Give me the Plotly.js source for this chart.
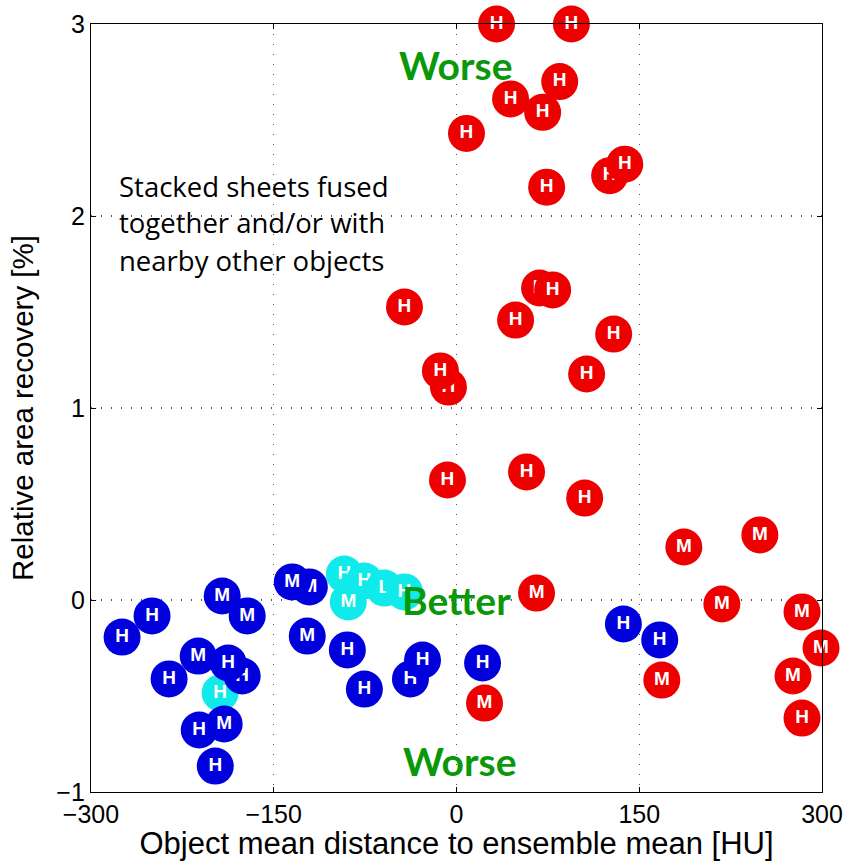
<!DOCTYPE html>
<html><head><meta charset="utf-8">
<script src="https://cdn.plot.ly/plotly-3.0.1.min.js"></script>
<style>html,body{margin:0;padding:0;background:#fff}#chart{width:844px;height:861px}</style>
</head><body><div id="chart"></div>
<script>
// Cyan objects (drawn first)
const cyanX = [-194, -92.1, -75.6, -59.2, -42.7, -88.8];
const cyanY = [-0.484, 0.135, 0.099, 0.062, 0.042, -0.010];
const cyanLabel = ['H', 'H', 'H', 'L', 'H', 'M'];

// Blue objects
const blueX = [-274.5, -249.9, -192.3, -171.8, -235.9, -175.9, -212, -187.4, -211.2, -190.7, -198,
               -120.8, -134.8, -122.5, -89.6, -75.6, -37.8, -27.9, 21.4, 137, 166.8];
const blueY = [-0.193, -0.083, 0.021, -0.083, -0.411, -0.396, -0.292, -0.328, -0.677, -0.646, -0.865,
               0.068, 0.094, -0.188, -0.26, -0.464, -0.411, -0.313, -0.328, -0.125, -0.208];
const blueLabel = ['H', 'H', 'M', 'M', 'H', 'H', 'M', 'H', 'H', 'M', 'H',
                   'M', 'M', 'M', 'H', 'H', 'H', 'H', 'H', 'H', 'H'];

// Red objects
const redX = [32.9, 94.3, 84.7, 44.4, 70.7, 8.2, 74, 125.7, 138.1, -42.7, 48.5, 68.2, 78.9, 129, 106.8,
              -6.6, -13.2, -7.4, 57.5, 105.2, 186.6, 249, 217.8, 283.6, 276.2, 299.2, 283.6, 168.5, 65.7, 23];
const redY = [3.0, 3.0, 2.70, 2.61, 2.54, 2.43, 2.15, 2.21, 2.27, 1.526, 1.458, 1.625, 1.615, 1.385, 1.177,
              1.109, 1.193, 0.625, 0.667, 0.531, 0.276, 0.339, -0.021, -0.062, -0.396, -0.25, -0.615, -0.417, 0.036, -0.537];
const redLabel = ['H', 'H', 'H', 'H', 'H', 'H', 'H', 'H', 'H', 'H', 'H', 'H', 'H', 'H', 'H',
                  'H', 'H', 'H', 'H', 'H', 'M', 'M', 'M', 'M', 'M', 'M', 'H', 'M', 'M', 'M'];

const xTickVals = [-300, -150, 0, 150, 300];
const yTickVals = [-1, 0, 1, 2, 3];

const groups = [
  {x: cyanX, y: cyanY, t: cyanLabel, color: '#10eaea'},
  {x: blueX, y: blueY, t: blueLabel, color: '#0000dd'},
  {x: redX, y: redY, t: redLabel, color: '#ee0000'}
];

const traces = [];
groups.forEach(g => {
  g.x.forEach((xv, i) => {
    traces.push({
      type: 'scatter', mode: 'markers+text',
      x: [xv], y: [g.y[i]], text: [g.t[i]],
      textposition: 'middle center',
      marker: {size: 37, color: g.color, line: {width: 0}},
      textfont: {color: '#ffffff', size: 19, family: 'Liberation Sans, Arial, sans-serif', weight: 'bold'},
      cliponaxis: false, showlegend: false, hoverinfo: 'skip'
    });
  });
});

const green = '#0a980a';
const axisCommon = {
  showline: true, linecolor: '#000', linewidth: 1.2, mirror: 'ticks',
  ticks: 'inside', ticklen: 5, tickcolor: '#000', tickwidth: 1,
  showgrid: true, gridcolor: '#555', gridwidth: 1.3, griddash: '1.3px,8.7px',
  zeroline: false, tickfont: {family: 'Liberation Sans, Arial, sans-serif', size: 25, color: '#000'},
  automargin: false, fixedrange: true
};

const layout = {
  width: 844, height: 861,
  margin: {l: 91, r: 22, t: 24, b: 69},
  paper_bgcolor: '#fff', plot_bgcolor: '#fff',
  showlegend: false,
  xaxis: Object.assign({}, axisCommon, {
    range: [-300, 300], tickmode: 'array', tickvals: xTickVals,
    title: {text: 'Object mean distance to ensemble mean [HU]', standoff: 4,
            font: {family: 'Liberation Sans, Arial, sans-serif', size: 31, color: '#000'}}
  }),
  yaxis: Object.assign({}, axisCommon, {
    range: [-1, 3], tickmode: 'array', tickvals: yTickVals,
    title: {text: 'Relative area recovery [%]', standoff: 14,
            font: {family: 'Liberation Sans, Arial, sans-serif', size: 29.5, color: '#000'}}
  }),
  annotations: [
    {text: 'Worse', x: -0.5, y: 2.786, xref: 'x', yref: 'y', showarrow: false, xanchor: 'center', yanchor: 'middle',
     font: {family: 'Lato, sans-serif', size: 39, color: green, weight: 'bold'}},
    {text: 'Better', x: 0, y: 0.0, xref: 'x', yref: 'y', showarrow: false, xanchor: 'center', yanchor: 'middle',
     font: {family: 'Lato, sans-serif', size: 39, color: green, weight: 'bold'}},
    {text: 'Worse', x: 2.5, y: -0.839, xref: 'x', yref: 'y', showarrow: false, xanchor: 'center', yanchor: 'middle',
     font: {family: 'Lato, sans-serif', size: 39, color: green, weight: 'bold'}},
    {text: 'Stacked sheets fused', x: -279, y: 2.156, xref: 'x', yref: 'y', showarrow: false, xanchor: 'left', yanchor: 'middle',
     font: {family: 'Open Sans, sans-serif', size: 27.5, color: '#000'}},
    {text: 'together and/or with', x: -279, y: 1.964, xref: 'x', yref: 'y', showarrow: false, xanchor: 'left', yanchor: 'middle',
     font: {family: 'Open Sans, sans-serif', size: 27.5, color: '#000'}},
    {text: 'nearby other objects', x: -279, y: 1.766, xref: 'x', yref: 'y', showarrow: false, xanchor: 'left', yanchor: 'middle',
     font: {family: 'Open Sans, sans-serif', size: 27.5, color: '#000'}}
  ]
};

Plotly.newPlot('chart', traces, layout, {staticPlot: true, displayModeBar: false});
</script>
</body></html>
